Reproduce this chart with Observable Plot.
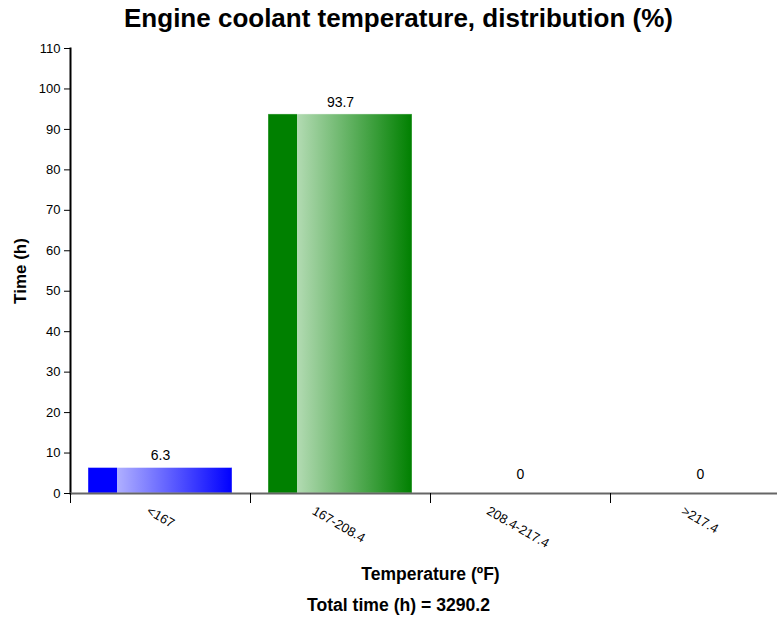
<!DOCTYPE html>
<html><head><meta charset="utf-8">
<script src="https://cdn.jsdelivr.net/npm/d3@7"></script>
<script src="https://cdn.jsdelivr.net/npm/@observablehq/plot@0.6"></script>
<style>
html,body{margin:0;padding:0;background:#fff;overflow:hidden;}
body{width:777px;height:619px;font-family:"Liberation Sans",Arial,sans-serif;}
#title{box-sizing:border-box;width:777px;height:36px;line-height:36px;font-size:26px;font-weight:bold;text-align:center;padding-left:20px;color:#000;}
#caption{box-sizing:border-box;width:777px;height:28px;line-height:28px;font-size:17.6px;font-weight:bold;text-align:center;padding-left:20px;color:#000;}
#chart svg{display:block;}
</style>
</head>
<body>
<div id="title">Engine coolant temperature, distribution (%)</div>
<div id="chart"></div>
<div id="caption">Total time (h) = 3290.2</div>
<script>
// ---- data ----
const categories = ["<167", "167-208.4", "208.4-217.4", ">217.4"];
const values = [6.3, 93.7, 0, 0];
const yTicks = [0, 10, 20, 30, 40, 50, 60, 70, 80, 90, 100, 110];
const yLabel = "Time (h)";
const xLabel = "Temperature (ºF)";

// ---- styles ----
const darkColors = ["#0000ff", "#008000", "#ff8c00", "#ff0000"];
const lightColors = ["#b0b0ff", "#b3dbb3", "#ffd9b0", "#ffb0b0"];

const data = categories.map((c, i) => ({cat: c, value: values[i]}));

const W = 777, H = 555, mL = 70, mR = -13, mT = 12, mB = 98;
const step = (W - mR - mL) / categories.length;

function defs() {
  const d = d3.create("svg:defs");
  categories.forEach((c, i) => {
    const g = d.append("linearGradient").attr("id", "grad" + i)
      .attr("x1", 0).attr("x2", 1).attr("y1", 0).attr("y2", 0);
    g.append("stop").attr("offset", 0).attr("stop-color", darkColors[i]);
    g.append("stop").attr("offset", 0.2).attr("stop-color", darkColors[i]);
    g.append("stop").attr("offset", 0.2).attr("stop-color", lightColors[i]);
    g.append("stop").attr("offset", 1).attr("stop-color", darkColors[i]);
  });
  return d.node();
}

const chart = Plot.plot({
  width: W, height: H,
  marginLeft: mL, marginRight: mR, marginTop: mT, marginBottom: mB,
  style: {fontFamily: "Liberation Sans, Arial, sans-serif", fontSize: "13px", color: "#000", background: "#fff"},
  x: {domain: categories, paddingInner: 0.2, paddingOuter: 0.1, axis: null},
  y: {domain: [0, 110], axis: null},
  color: {type: "ordinal", domain: categories, range: categories.map((c, i) => `url(#grad${i})`)},
  marks: [
    defs,
    Plot.barY(data, {x: "cat", y: "value", fill: "cat", stroke: "#fff", strokeOpacity: 0.4, strokeWidth: 1}),
    Plot.axisY({ticks: yTicks, tickSize: 6, tickPadding: 4, fontSize: 13, label: null, stroke: "#000"}),
    Plot.frame({anchor: "left", stroke: "#000", strokeWidth: 2}),
    Plot.ruleY([0], {stroke: "#666", strokeWidth: 2}),
    Plot.axisX({tickSize: 10, tickFormat: () => "", dx: -step / 2, label: null, stroke: "#000"}),
    Plot.text(categories, {x: d => d, frameAnchor: "bottom", dy: 20, rotate: 30, textAnchor: "start", fontSize: 13, fill: "#000"}),
    Plot.text(data, {filter: d => d.value > 0, x: "cat", y: "value", text: d => String(d.value), dy: -12, fontSize: 14, fill: "#000"}),
    Plot.text(data, {filter: d => d.value === 0, x: "cat", y: "value", text: d => String(d.value), dy: -19, fontSize: 14, fill: "#000"}),
    Plot.text([yLabel], {frameAnchor: "left", textAnchor: "middle", dx: -50, rotate: -90, fontSize: 17, fontWeight: "bold", fill: "#000"}),
    Plot.text([xLabel], {frameAnchor: "bottom", textAnchor: "middle", dy: 86, fontSize: 17.5, fontWeight: "bold", fill: "#000"})
  ]
});
document.getElementById("chart").appendChild(chart);

// shift rotated category labels so each starts half its width left of the band centre
chart.querySelectorAll("text").forEach(t => {
  if (!categories.includes(t.textContent)) return;
  const tr = t.getAttribute("transform") || "";
  if (!tr.includes("rotate")) return;
  const w = t.getComputedTextLength();
  t.setAttribute("transform", `translate(${-w / 2},0) ` + tr);
});
</script>
</body></html>
